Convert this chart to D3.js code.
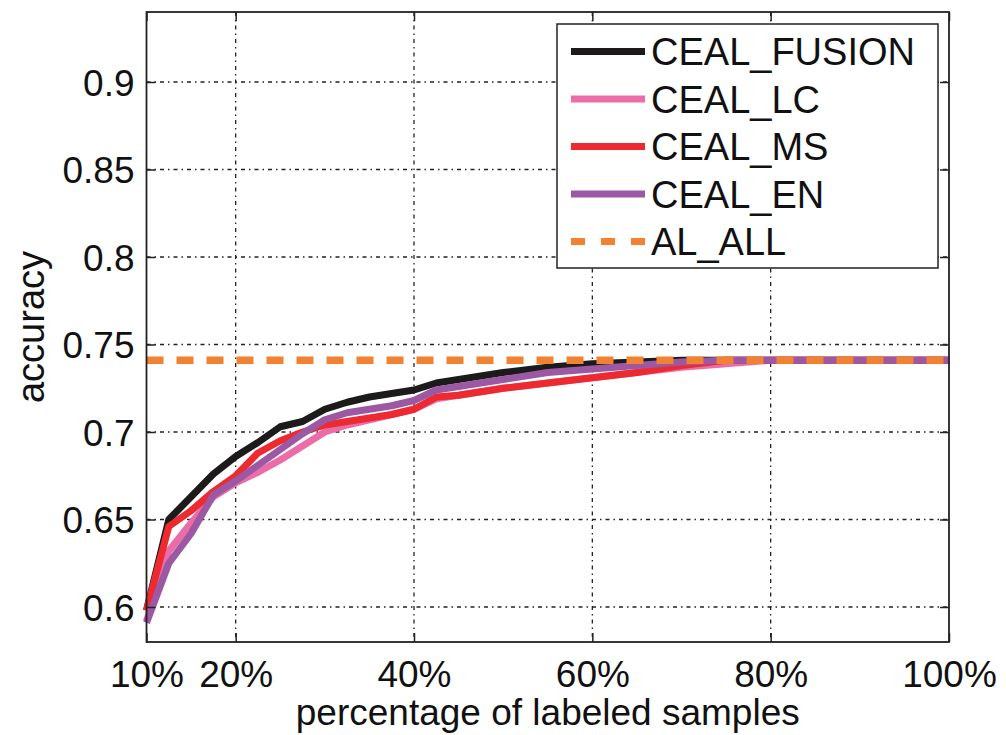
<!DOCTYPE html>
<html>
<head>
<meta charset="utf-8">
<script src="https://cdn.jsdelivr.net/npm/d3@7"></script>
<style>
  body { margin: 0; background: #fff; }
  svg text { font-family: "Liberation Sans", Arial, Helvetica, sans-serif; fill: #111; }
</style>
</head>
<body>
<div id="chart"></div>
<script>
// percentage of labeled samples
const xValues = [10, 12.5, 15, 17.5, 20, 22.5, 25, 27.5, 30, 32.5, 35, 37.5, 40, 42.5, 45, 50, 55, 60, 65, 70, 75, 80, 85, 90, 95, 100];

const fusion = [0.598, 0.650, 0.663, 0.676, 0.686, 0.694, 0.703, 0.706, 0.713, 0.717, 0.720, 0.722, 0.724, 0.728, 0.730, 0.734, 0.737, 0.739, 0.740, 0.741, 0.741, 0.741, 0.741, 0.741, 0.741, 0.741];
const lc     = [0.592, 0.632, 0.648, 0.663, 0.671, 0.677, 0.684, 0.692, 0.700, 0.704, 0.707, 0.710, 0.713, 0.719, 0.721, 0.725, 0.728, 0.731, 0.734, 0.737, 0.739, 0.741, 0.741, 0.741, 0.741, 0.741];
const ms     = [0.598, 0.646, 0.655, 0.666, 0.675, 0.688, 0.695, 0.700, 0.704, 0.706, 0.708, 0.710, 0.713, 0.720, 0.721, 0.725, 0.728, 0.731, 0.734, 0.738, 0.741, 0.741, 0.741, 0.741, 0.741, 0.741];
const en     = [0.591, 0.625, 0.642, 0.664, 0.672, 0.681, 0.690, 0.699, 0.707, 0.711, 0.713, 0.715, 0.718, 0.724, 0.726, 0.730, 0.734, 0.736, 0.738, 0.740, 0.741, 0.741, 0.741, 0.741, 0.741, 0.741];
const alAll = 0.741;

const seriesNames = ['CEAL_FUSION', 'CEAL_LC', 'CEAL_MS', 'CEAL_EN', 'AL_ALL'];
const seriesColors = ['#1c1a1a', '#ec6ca8', '#ec2a2f', '#9c58a3', '#f28131'];

const xTicks = [10, 20, 40, 60, 80, 100];
const yTicks = [0.6, 0.65, 0.7, 0.75, 0.8, 0.85, 0.9];

const width = 1006, height = 735;
const plotL = 146.5, plotR = 949, plotT = 12, plotB = 642;

const svg = d3.select('#chart').append('svg')
  .attr('width', width).attr('height', height);

const x = d3.scaleLinear().domain([10, 100]).range([plotL, plotR]);
const y = d3.scaleLinear().domain([0.58, 0.94]).range([plotB, plotT]);

// grid (MATLAB dash-dot style)
const grid = svg.append('g').attr('stroke', '#222').attr('stroke-width', 1.3)
  .attr('stroke-dasharray', '4,4,1.5,4');
grid.selectAll('line.v').data(xTicks.filter(d => d > 10 && d < 100)).join('line')
  .attr('class', 'v')
  .attr('x1', d => x(d)).attr('x2', d => x(d)).attr('y1', plotT).attr('y2', plotB);
grid.selectAll('line.h').data(yTicks).join('line')
  .attr('class', 'h')
  .attr('y1', d => y(d)).attr('y2', d => y(d)).attr('x1', plotL).attr('x2', plotR);

// series lines
const line = d3.line().x((d, i) => x(xValues[i])).y(d => y(d));
const curves = [fusion, lc, ms, en];
svg.append('g').selectAll('path').data(curves).join('path')
  .attr('d', d => line(d))
  .attr('fill', 'none')
  .attr('stroke', (d, i) => seriesColors[i])
  .attr('stroke-width', 7)
  .attr('stroke-linejoin', 'round');

svg.append('line')
  .attr('x1', x(10)).attr('x2', x(100)).attr('y1', y(alAll)).attr('y2', y(alAll))
  .attr('stroke', seriesColors[4]).attr('stroke-width', 7.5)
  .attr('stroke-dasharray', '17,13');

// axes: ticks inside on all four sides
const tickLen = 9;
const axBottom = svg.append('g').attr('transform', `translate(0,${plotB})`)
  .call(d3.axisBottom(x).tickValues(xTicks).tickSize(-tickLen).tickPadding(19).tickFormat(d => d + '%'));
const axTop = svg.append('g').attr('transform', `translate(0,${plotT})`)
  .call(d3.axisTop(x).tickValues(xTicks).tickSize(-tickLen).tickFormat(''));
const axLeft = svg.append('g').attr('transform', `translate(${plotL},0)`)
  .call(d3.axisLeft(y).tickValues(yTicks).tickSize(-tickLen).tickPadding(12).tickFormat(d => String(d)));
const axRight = svg.append('g').attr('transform', `translate(${plotR},0)`)
  .call(d3.axisRight(y).tickValues(yTicks).tickSize(-tickLen).tickFormat(''));

[axBottom, axTop, axLeft, axRight].forEach(g => {
  g.select('.domain').remove();
  g.selectAll('.tick line').attr('stroke', '#222').attr('stroke-width', 1.5);
  g.selectAll('text').attr('font-size', 37).attr('fill', '#111');
});
axBottom.selectAll('text').attr('dy', '0.71em');
axLeft.selectAll('text').attr('dy', '0.36em');

svg.append('rect')
  .attr('x', plotL).attr('y', plotT).attr('width', plotR - plotL).attr('height', plotB - plotT)
  .attr('fill', 'none').attr('stroke', '#222').attr('stroke-width', 1.8);

// axis titles
svg.append('text')
  .attr('x', (plotL + plotR) / 2).attr('y', 725)
  .attr('text-anchor', 'middle').attr('font-size', 37)
  .text('percentage of labeled samples');
svg.append('text')
  .attr('transform', 'translate(44,327) rotate(-90)')
  .attr('text-anchor', 'middle').attr('font-size', 38)
  .text('accuracy');

// legend
const legend = svg.append('g');
legend.append('rect')
  .attr('x', 557).attr('y', 24).attr('width', 381).attr('height', 244)
  .attr('fill', '#fff').attr('stroke', '#222').attr('stroke-width', 1.5);
const rows = legend.selectAll('g').data(seriesNames).join('g')
  .attr('transform', (d, i) => `translate(0,${51.5 + i * 47.5})`);
rows.append('line')
  .attr('x1', 571).attr('x2', 645).attr('y1', 0).attr('y2', 0)
  .attr('stroke', (d, i) => seriesColors[i])
  .attr('stroke-width', 7)
  .attr('stroke-dasharray', (d, i) => i === 4 ? '14,16' : null);
rows.append('text')
  .attr('x', 651).attr('y', 0).attr('dy', '0.36em')
  .attr('font-size', 38)
  .text(d => d);
</script>
</body>
</html>
